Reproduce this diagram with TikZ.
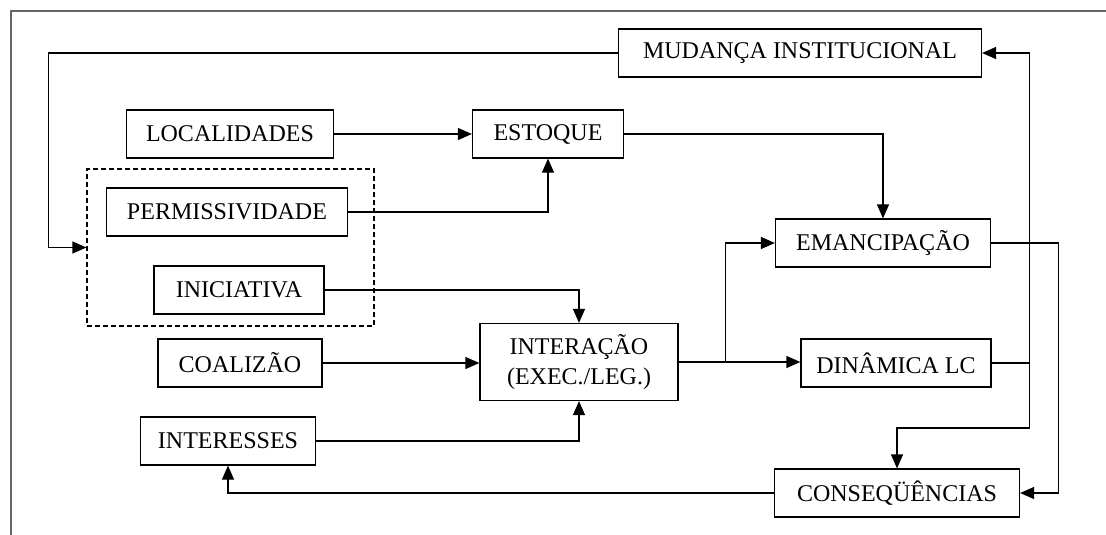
\documentclass[tikz,border=0pt]{standalone}
\usepackage{fontspec}
\setmainfont{Liberation Serif}
\usetikzlibrary{arrows.meta}
\tikzset{
  caixa/.style={draw,line width=1.2pt,minimum height=48,inner xsep=0pt,font=\fontsize{24}{30}\selectfont,align=center},
  grupo/.style={draw,densely dashed,line width=1.2pt,dash pattern=on 5pt off 3pt},
  seta/.style={line width=1.2pt,-{Triangle[length=14pt,width=12pt]}},
  linha/.style={line width=1.2pt}
}
\begin{document}
\begin{tikzpicture}[x=1pt,y=-1pt]
            \useasboundingbox (0,0) rectangle (1106,535);

            % Frame
            \draw[line width=2pt,black!60] (11,535) -- (11,11) -- (1106,11);

            % Boxes
            \node[caixa,minimum width=363] (mudanca) at (800,53) {MUDANÇA INSTITUCIONAL};
            \node[caixa,minimum width=207] (localidades) at (230,134) {LOCALIDADES};
            \node[caixa,minimum width=151] (estoque) at (548,134) {ESTOQUE};
            \node[grupo,minimum width=287,minimum height=157] (instit) at (230.5,247.5) {};
            \node[caixa,minimum width=241] (permiss) at (227,212) {PERMISSIVIDADE};
            \node[caixa,minimum width=170] (iniciativa) at (239,290) {INICIATIVA};
            \node[caixa,minimum width=164] (coalizao) at (240,363) {COALIZÃO};
            \node[caixa,minimum width=198,minimum height=77] (interacao) at (579,362) {INTERAÇÃO\\(EXEC./LEG.)};
            \node[caixa,minimum width=175] (interesses) at (228,441) {INTERESSES};
            \node[caixa,minimum width=215] (emancip) at (883,243) {EMANCIPAÇÃO};
            \node[caixa,minimum width=190] (dinamica) at (896,363) {DINÂMICA LC};
            \node[caixa,minimum width=245] (conseq) at (897,493) {CONSEQÜÊNCIAS};

            % Branch points
            \coordinate (ramo) at ([xshift=47pt]interacao.east);
            \coordinate (colA) at ([xshift=38pt]dinamica.east);
            \coordinate (colB) at (colA |- 0,428);

            % Arrows
            \draw[seta] (mudanca.west) -| ([xshift=-38pt]instit.west) -- (instit.west);
            \draw[seta] (localidades) -- (estoque);
            \draw[seta] (permiss.east) -| (estoque.south);
            \draw[seta] (estoque.east) -| (emancip.north);
            \draw[seta] (iniciativa.east) -| (interacao.north);
            \draw[seta] (coalizao) -- (coalizao -| interacao.west);
            \draw[seta] (interesses.east) -| (interacao.south);
            \draw[seta] (interacao.east) -- (interacao.east -| dinamica.west);
            \draw[seta] (ramo) |- (emancip.west);
            \draw[linha] (dinamica.east) -- (colA);
            \draw[seta] (colA) |- (mudanca.east);
            \draw[seta] (colA) -- (colB) -| (conseq.north);
            \draw[seta] (emancip.east) -| ([xshift=38pt]conseq.east) -- (conseq.east);
            \draw[seta] (conseq.west) -| (interesses.south);
        \end{tikzpicture}
\end{document}
